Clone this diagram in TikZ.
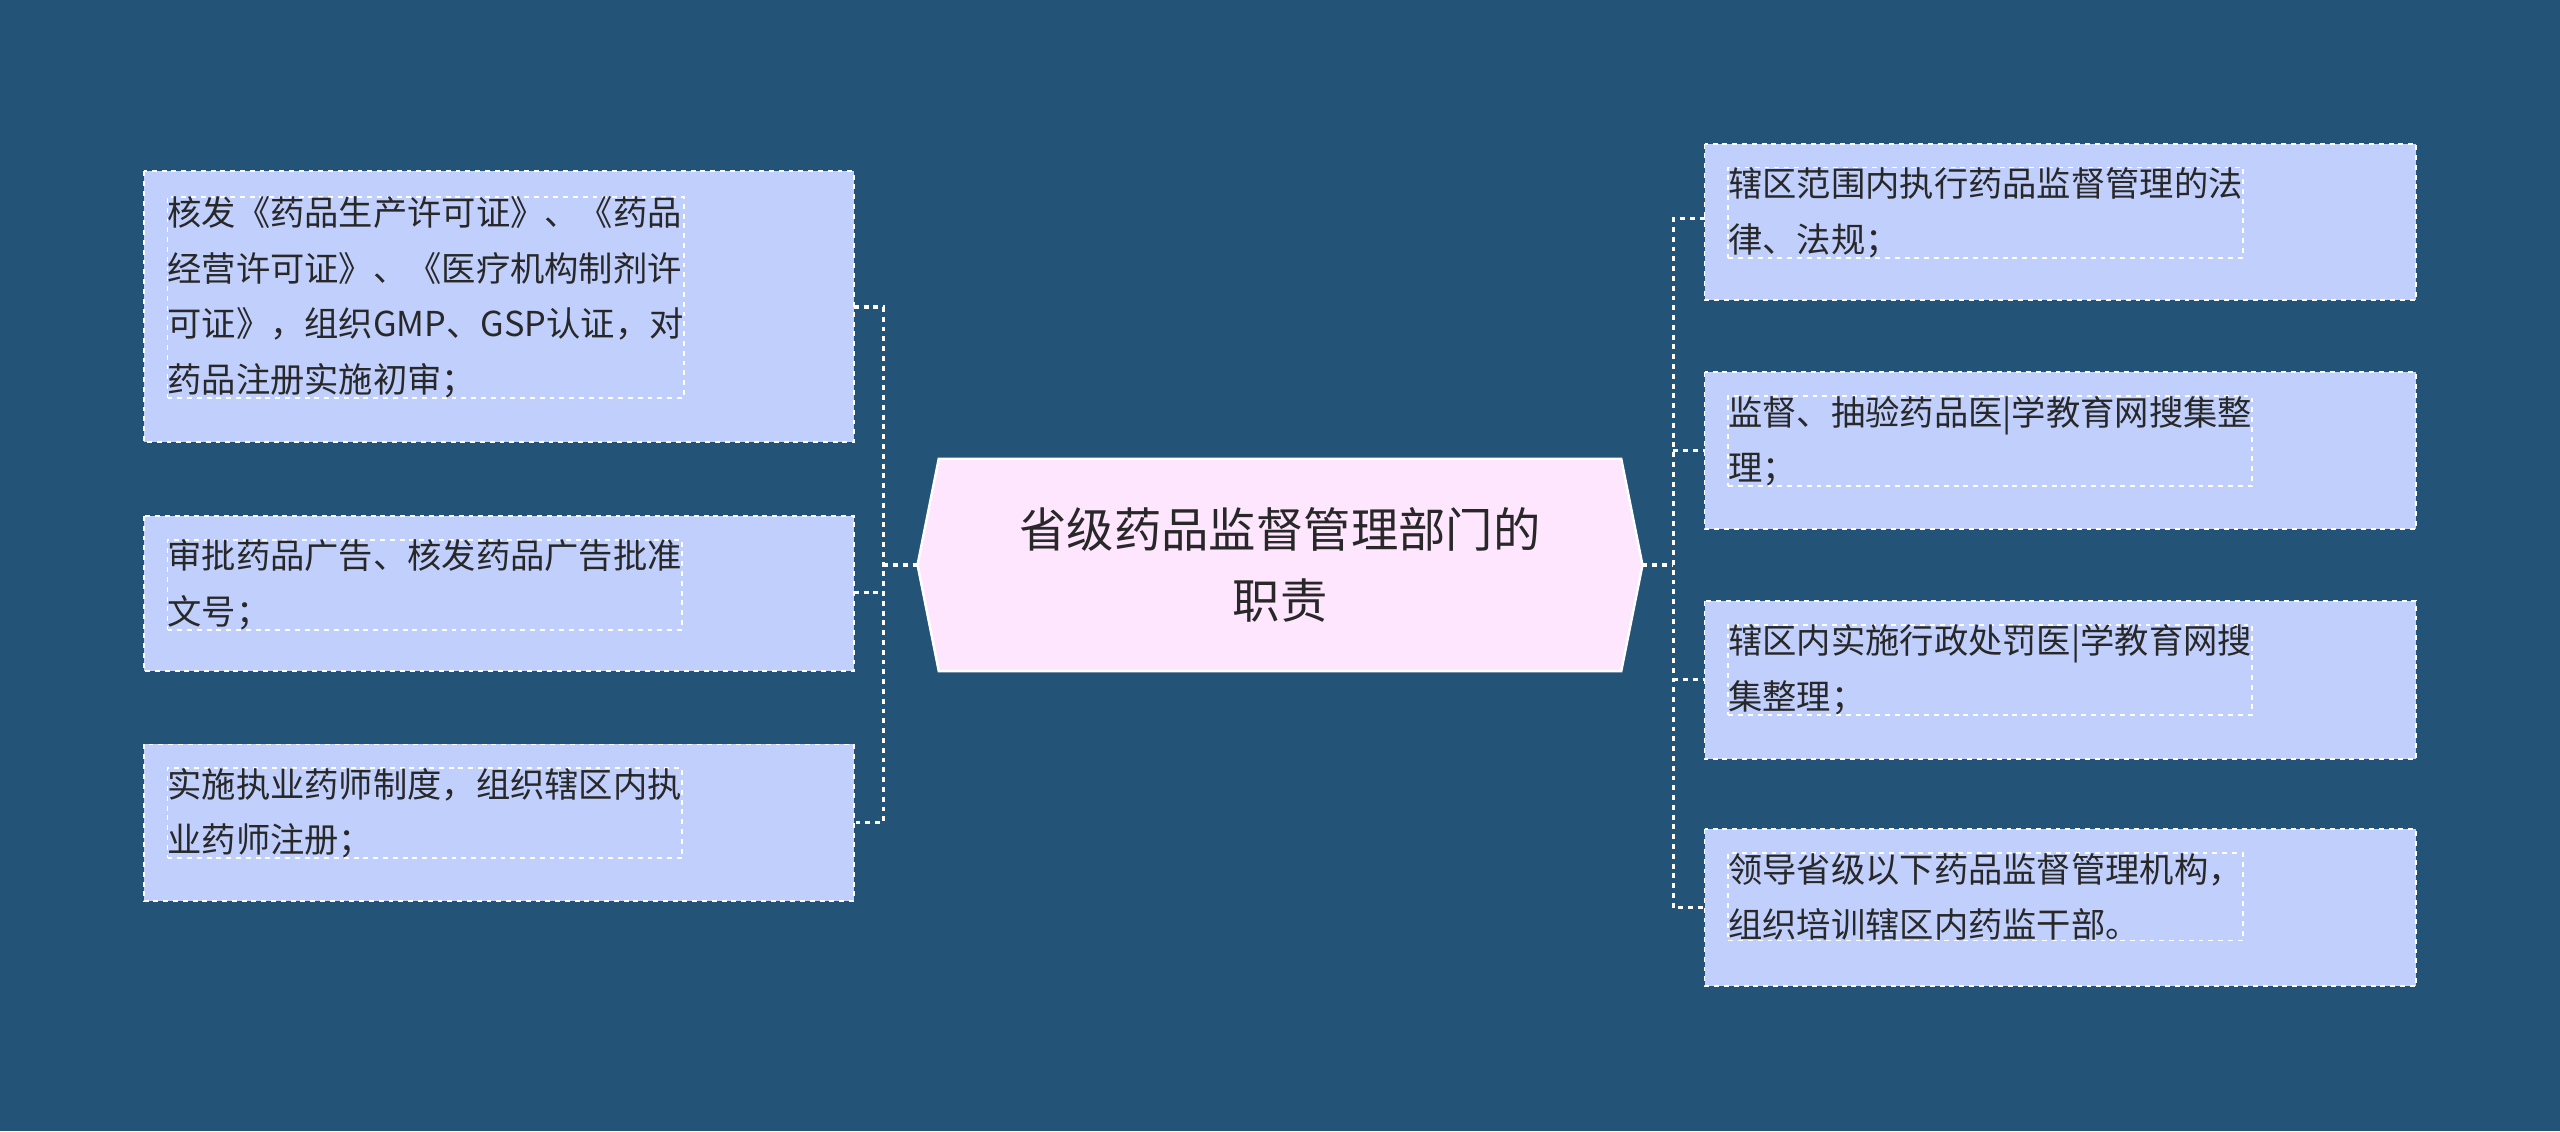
\documentclass[tikz,border=0pt]{standalone}
\usepackage{fontspec}
\newfontfamily\cjk{Noto Sans CJK SC}
\definecolor{bg}{RGB}{35,84,120}
\definecolor{leaf}{RGB}{192,207,252}
\definecolor{cent}{RGB}{255,230,255}
\definecolor{txt}{RGB}{40,40,40}
\tikzset{
 leafbox/.style={draw=white,dashed,line width=1.2pt,fill=leaf,text=txt,font=\cjk\fontsize{21}{34}\selectfont,align=left,anchor=north west,inner sep=0pt},
 link/.style={draw=white,dashed,line width=2pt}
}
\begin{document}
\begin{tikzpicture}[x=1pt,y=-1pt]
\fill[bg] (0,0) rectangle (1568,693);
\useasboundingbox (0,0) rectangle (1568,693);
% center
\fill[cent,draw=white,line width=1.5pt] (575,281)--(993,281)--(1006,346)--(993,411)--(575,411)--(562,346)--cycle;
\node[text=txt,font=\cjk\fontsize{29}{44}\selectfont,align=center] (c) at (784,346) {省级药品监督管理部门的\\职责};
\coordinate (cl) at (562,346);
\coordinate (cr) at (1006,346);
% left boxes
\path[leafbox] (88,105) rectangle (523,271);
\node[leafbox] (l1) at (102,120) {核发《药品生产许可证》、《药品\\经营许可证》、《医疗机构制剂许\\可证》，组织GMP、GSP认证，对\\药品注册实施初审；};
\path[leafbox] (88,316) rectangle (523,411);
\node[leafbox] (l2) at (102,330) {审批药品广告、核发药品广告批准\\文号；};
\path[leafbox] (88,456) rectangle (523,552);
\node[leafbox] (l3) at (102,470) {实施执业药师制度，组织辖区内执\\业药师注册；};
% right boxes
\path[leafbox] (1044,88) rectangle (1480,184);
\node[leafbox] (r1) at (1058,102) {辖区范围内执行药品监督管理的法\\律、法规；};
\path[leafbox] (1044,228) rectangle (1480,324);
\node[leafbox] (r2) at (1058,242) {监督、抽验药品医|学教育网搜集整\\理；};
\path[leafbox] (1044,368) rectangle (1480,465);
\node[leafbox] (r3) at (1058,382) {辖区内实施行政处罚医|学教育网搜\\集整理；};
\path[leafbox] (1044,508) rectangle (1480,604);
\node[leafbox] (r4) at (1058,522) {领导省级以下药品监督管理机构，\\组织培训辖区内药监干部。};
% connectors
\coordinate (lb) at (541,346);
\draw[link] (cl) -- (lb);
\draw[link] (523,188) -| (541,504) -- (523,504);
\draw[link] (523,363) -- (541,363);
\coordinate (rb) at (1025,346);
\draw[link] (cr) -- (rb);
\draw[link] (1044,134) -| (1025,556) -- (1044,556);
\draw[link] (1025,276) -- (1044,276);
\draw[link] (1025,416) -- (1044,416);
\end{tikzpicture}
\end{document}
